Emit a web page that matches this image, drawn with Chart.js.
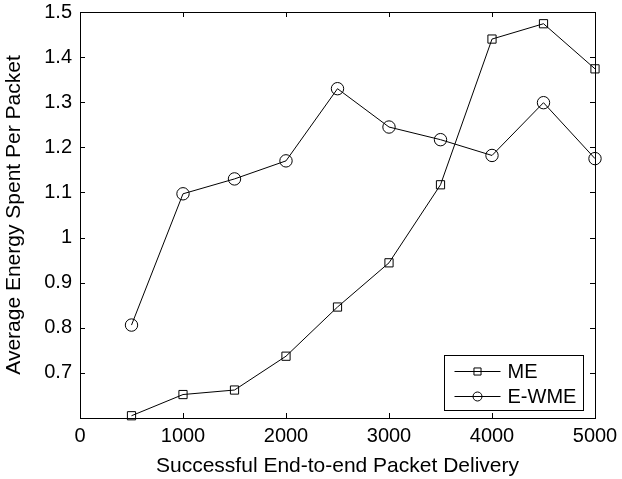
<!DOCTYPE html>
<html lang="en">
<head>
  <meta charset="UTF-8">
  <title>Average Energy Spent Per Packet</title>
  <script src="https://cdn.jsdelivr.net/npm/chart.js"></script>
  <style>
    body {
      margin: 0;
      background-color: #fff;
    }
    #chartContainer {
      width: 622px;
      height: 479px;
    }
  </style>
</head>
<body>
  <div id="chartContainer">
    <canvas id="energyChart"></canvas>
  </div>

  <script>
    // values
    const deliveries = [500, 1000, 1500, 2000, 2500, 3000, 3500, 4000, 4500, 5000];
    const meValues = [0.605, 0.652, 0.662, 0.737, 0.846, 0.944, 1.117, 1.440, 1.474, 1.374];
    const ewmeValues = [0.806, 1.097, 1.130, 1.170, 1.330, 1.245, 1.217, 1.182, 1.299, 1.175];
    const seriesNames = ['ME', 'E-WME'];
    const xTicks = [0, 1000, 2000, 3000, 4000, 5000];
    const yTicks = [0.6, 0.7, 0.8, 0.9, 1.0, 1.1, 1.2, 1.3, 1.4, 1.5];

    const FONT = 'Liberation Sans, Arial, sans-serif';

    function toPoints(values) {
      return deliveries.map((x, i) => ({ x: x, y: values[i] }));
    }

    // box around the plot with inward ticks on all four sides (MATLAB look)
    const boxPlugin = {
      id: 'boxTicks',
      afterDatasetsDraw(chart) {
        const ctx = chart.ctx;
        const area = chart.chartArea;
        const xs = chart.scales.x;
        const ys = chart.scales.y;
        const len = 5;
        ctx.save();
        ctx.strokeStyle = '#000';
        ctx.lineWidth = 1;
        ctx.beginPath();
        xTicks.forEach(v => {
          const px = Math.round(xs.getPixelForValue(v)) + 0.5;
          ctx.moveTo(px, area.bottom);
          ctx.lineTo(px, area.bottom - len);
          ctx.moveTo(px, area.top);
          ctx.lineTo(px, area.top + len);
        });
        yTicks.forEach(v => {
          const py = Math.round(ys.getPixelForValue(v)) + 0.5;
          ctx.moveTo(area.left, py);
          ctx.lineTo(area.left + len, py);
          ctx.moveTo(area.right, py);
          ctx.lineTo(area.right - len, py);
        });
        ctx.stroke();
        ctx.strokeRect(Math.round(area.left) + 0.5, Math.round(area.top) + 0.5,
          Math.round(area.right - area.left), Math.round(area.bottom - area.top));
        ctx.restore();
      }
    };

    // legend inside the lower right corner, line with marker in the middle
    const legendPlugin = {
      id: 'innerLegend',
      afterDraw(chart) {
        const ctx = chart.ctx;
        const area = chart.chartArea;
        const w = 139, h = 55;
        const left = Math.round(area.right - 12 - w) + 0.5;
        const top = Math.round(area.bottom - 8 - h) + 0.5;
        const markerSize = [5, 4.5];
        ctx.save();
        ctx.fillStyle = '#fff';
        ctx.fillRect(left, top, w, h);
        ctx.strokeStyle = '#000';
        ctx.lineWidth = 1;
        ctx.strokeRect(left, top, w, h);
        ctx.font = '20px ' + FONT;
        ctx.textBaseline = 'middle';
        chart.data.datasets.forEach((ds, i) => {
          const cy = Math.round(top + 15 + i * 25) + 0.5;
          ctx.strokeStyle = '#000';
          ctx.beginPath();
          ctx.moveTo(left + 10, cy);
          ctx.lineTo(left + 56, cy);
          ctx.stroke();
          ctx.fillStyle = 'rgba(0,0,0,0)';
          Chart.helpers.drawPoint(ctx, {
            pointStyle: ds.pointStyle,
            radius: markerSize[i],
            borderWidth: 1
          }, left + 33, cy);
          ctx.fillStyle = '#000';
          ctx.fillText(ds.label, left + 63, cy + 1);
        });
        ctx.restore();
      }
    };

    new Chart(document.getElementById('energyChart'), {
      type: 'line',
      data: {
        datasets: [
          {
            label: seriesNames[0],
            data: toPoints(meValues),
            borderColor: '#000',
            borderWidth: 1,
            pointStyle: 'rect',
            pointRadius: 5.8,
            pointBorderColor: '#000',
            pointBackgroundColor: 'rgba(0,0,0,0)',
            pointBorderWidth: 1,
            tension: 0,
            clip: false
          },
          {
            label: seriesNames[1],
            data: toPoints(ewmeValues),
            borderColor: '#000',
            borderWidth: 1,
            pointStyle: 'circle',
            pointRadius: 6.2,
            pointBorderColor: '#000',
            pointBackgroundColor: 'rgba(0,0,0,0)',
            pointBorderWidth: 1,
            tension: 0,
            clip: false
          }
        ]
      },
      options: {
        responsive: true,
        maintainAspectRatio: false,
        animation: false,
        events: [],
        layout: { padding: { top: 12, right: 27, left: 0, bottom: 0 } },
        plugins: {
          legend: { display: false },
          tooltip: { enabled: false }
        },
        scales: {
          x: {
            type: 'linear',
            min: 0,
            max: 5000,
            afterBuildTicks: scale => { scale.ticks = xTicks.map(v => ({ value: v })); },
            afterFit: scale => {
              scale.height = 61;
              scale.paddingLeft = 0;
              scale.paddingRight = 0;
            },
            grid: { display: false, drawTicks: false },
            border: { display: false },
            ticks: {
              color: '#000',
              padding: 6,
              maxRotation: 0,
              font: { family: FONT, size: 20 },
              callback: v => String(v)
            },
            title: {
              display: true,
              text: 'Successful End-to-end Packet Delivery',
              color: '#000',
              padding: { top: 0, bottom: 0 },
              font: { family: FONT, size: 21 }
            }
          },
          y: {
            type: 'linear',
            min: 0.6,
            max: 1.5,
            afterBuildTicks: scale => { scale.ticks = yTicks.map(v => ({ value: v })); },
            afterFit: scale => {
              scale.width = 80;
              scale.paddingTop = 0;
              scale.paddingBottom = 0;
            },
            grid: { display: false, drawTicks: false },
            border: { display: false },
            ticks: {
              color: '#000',
              padding: 8,
              font: { family: FONT, size: 20 },
              callback: v => (Math.abs(v - 0.6) < 1e-6 ? '' : String(Math.round(v * 10) / 10))
            },
            title: {
              display: true,
              text: 'Average Energy Spent Per Packet',
              color: '#000',
              padding: { top: 2, bottom: 0 },
              font: { family: FONT, size: 21 }
            }
          }
        }
      },
      plugins: [boxPlugin, legendPlugin]
    });
  </script>
</body>
</html>
